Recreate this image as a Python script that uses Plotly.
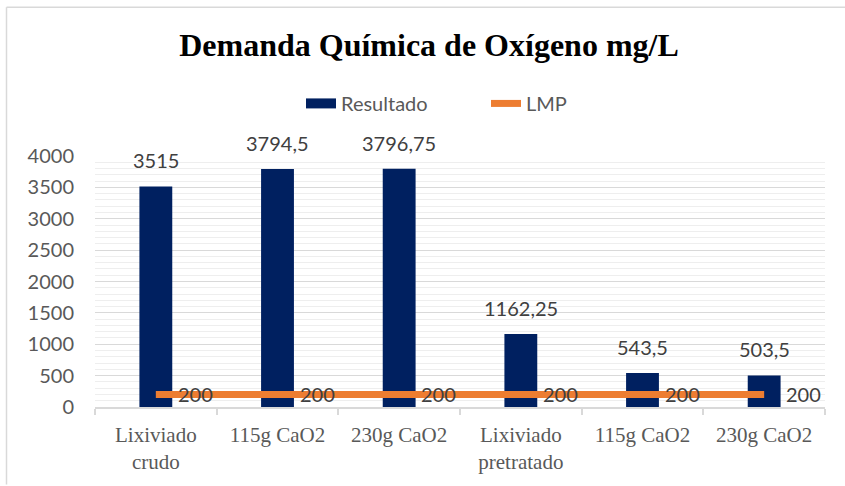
import plotly.graph_objects as go

categories = ["Lixiviado<br>crudo", "115g CaO2", "230g CaO2",
              "Lixiviado<br>pretratado", "115g CaO2", "230g CaO2"]
resultado = [3515, 3794.5, 3796.75, 1162.25, 543.5, 503.5]
lmp = [200, 200, 200, 200, 200, 200]
y_ticks = [0, 500, 1000, 1500, 2000, 2500, 3000, 3500, 4000]

xpos = list(range(len(categories)))

def fmt(v):
    return f"{v:g}".replace(".", ",")

fig = go.Figure()
fig.add_trace(go.Bar(
    x=xpos, y=resultado, name="Resultado", width=0.27,
    marker=dict(color="#002060", line=dict(width=0)), showlegend=False,
))
fig.add_trace(go.Scatter(
    x=xpos, y=lmp, name="LMP", mode="lines",
    line=dict(color="#ED7D31", width=7), showlegend=False,
))
# legend entries
fig.add_trace(go.Scatter(x=[None], y=[None], name="Resultado", mode="lines",
                         line=dict(color="#002060", width=11)))
fig.add_trace(go.Scatter(x=[None], y=[None], name="LMP", mode="lines",
                         line=dict(color="#ED7D31", width=7)))

annotations = []
for x, v in zip(xpos, resultado):
    annotations.append(dict(x=x, y=v, text=fmt(v), showarrow=False,
                            yshift=26, xanchor="center", yanchor="middle",
                            font=dict(family="Lato", size=20, color="#404040")))
for x, v in zip(xpos, lmp):
    annotations.append(dict(x=x, y=v, text=fmt(v), showarrow=False,
                            xshift=20, xanchor="left", yanchor="middle",
                            font=dict(family="Lato", size=20, color="#404040")))

L, R, T, B = 95, 20, 156, 77
W, H = 845, 486
pw, ph = W - L - R, H - T - B

def px_x(p):
    return (p - L) / pw

def px_y(p):
    return (H - B - p) / ph

shapes = [
    dict(type="line", xref="paper", yref="paper", x0=px_x(6.5), x1=px_x(846),
         y0=px_y(6), y1=px_y(6), line=dict(color="#d9d9d9", width=1.5)),
    dict(type="line", xref="paper", yref="paper", x0=px_x(6.5), x1=px_x(6.5),
         y0=px_y(6), y1=px_y(487), line=dict(color="#d9d9d9", width=1.5)),
]

fig.update_layout(
    width=W, height=H,
    margin=dict(l=L, r=R, t=T, b=B),
    paper_bgcolor="white", plot_bgcolor="white",
    title=dict(text="<b>Demanda Química de Oxígeno mg/L</b>",
               x=429 / W, xanchor="center", y=1 - 45 / H, yanchor="middle",
               font=dict(family="Liberation Serif", size=32, color="black")),
    legend=dict(orientation="h", x=px_x(301), xanchor="left",
                y=px_y(103), yanchor="middle",
                entrywidth=140, entrywidthmode="pixels",
                font=dict(family="Lato", size=20, color="#595959"),
                bgcolor="rgba(0,0,0,0)"),
    showlegend=True,
    annotations=annotations,
    shapes=shapes,
)
fig.update_xaxes(
    range=[-0.5, len(categories) - 0.5],
    tickvals=xpos, ticktext=categories, ticks="",
    showgrid=False, zeroline=False,
    showline=True, linecolor="#d9d9d9", linewidth=1.5,
    tickfont=dict(family="Liberation Serif", size=21, color="#595959"),
    ticklabelstandoff=8,
    minor=dict(ticks="outside", tick0=-0.5, dtick=1, ticklen=6,
               tickcolor="#d9d9d9", tickwidth=1.5, showgrid=False),
)
fig.update_yaxes(
    range=[0, 4000], tickvals=y_ticks, ticktext=[str(t) for t in y_ticks],
    showgrid=True, gridcolor="#d9d9d9", gridwidth=1.2,
    zeroline=False, showline=False,
    tickfont=dict(family="Lato", size=20, color="#595959"),
    ticklabelstandoff=20,
    minor=dict(dtick=100, tick0=0, showgrid=True, gridcolor="#eeeeee", gridwidth=1),
)

fig.write_html("out.html", config={"displayModeBar": False},
               post_script="document.body.style.margin='0';document.body.style.overflow='hidden';")
